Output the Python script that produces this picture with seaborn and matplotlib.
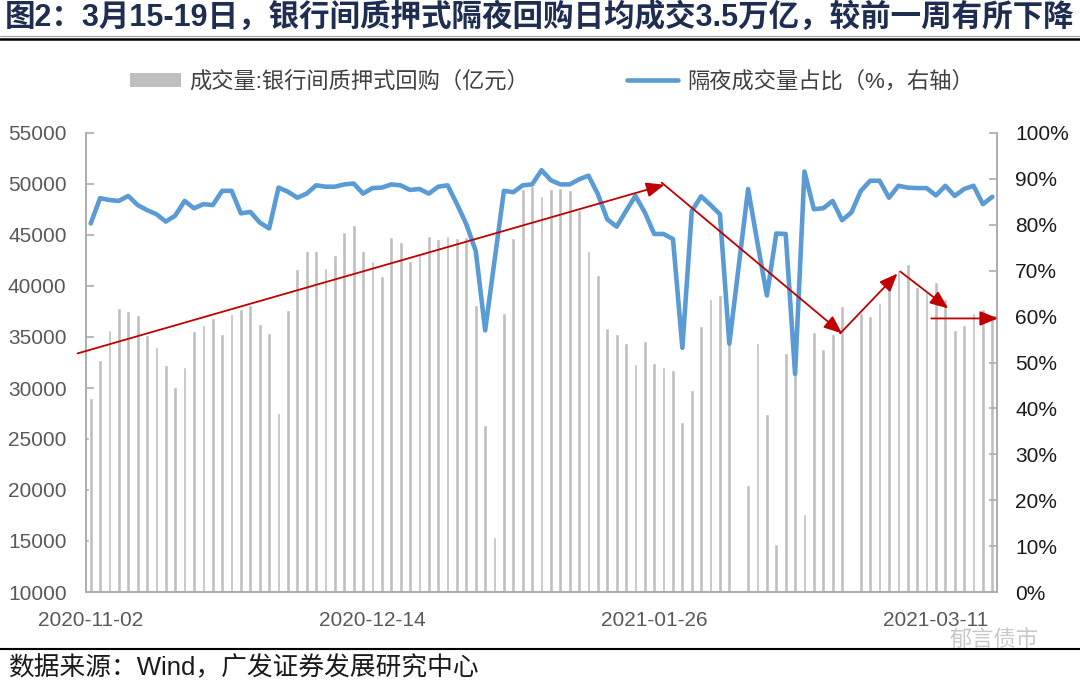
import numpy as np
import pandas as pd
import matplotlib
matplotlib.use('Agg')
import matplotlib.pyplot as plt
import seaborn as sns
from matplotlib.lines import Line2D
from matplotlib.patches import Patch

# daily volume, interbank pledged repo (100m yuan); nan = no visible bar
volume = [29050, 32780, 35690, 37840, 37550, 37120, 35160, 34020, 32220, 30070,
          32030, 35620, 36210, 36900, 35330, 37290, 37750, 38170, 36280, 35390,
          27520, 37650, 41700, 43400, 43450, 41800, 43040, 45290, 45950, 43430,
          42480, 41010, 44800, 44280, 42480, 43100, 44900, 44610, 44930, 44670,
          44800, 38140, 26370, 15420, 37350, 44670, 49510, 49840, 48820, 49510,
          49580, 49380, 47450, 43400, 41110, 35920, 35290, 34380, 32390, 34640,
          32480, 32060, 31800, 26700, 29770, 36050, 38760, 39090, 36000, np.nan,
          20460, 34450, 27420, 14710, 33400, 32000, 17650, 35490, 33820, 35300,
          38070, np.nan, 37390, 37090, 38300, 40000, 41600, 42120, 39900, 39400,
          40350, 38750, 35640, 36220, 37340, 37700, 36800]

# overnight share of volume (%)
share = [80.3, 85.8, 85.4, 85.2, 86.3, 84.3, 83.2, 82.3, 80.7, 82.0,
         85.2, 83.6, 84.5, 84.3, 87.4, 87.4, 82.5, 82.8, 80.5, 79.2,
         88.1, 87.2, 85.9, 86.8, 88.6, 88.3, 88.3, 88.8, 89.0, 86.8,
         88.0, 88.1, 88.8, 88.6, 87.6, 87.8, 86.8, 88.3, 88.6, 84.5,
         80.1, 74.3, 57.0, 72.2, 87.4, 87.1, 88.6, 88.8, 91.9, 89.7,
         88.8, 88.8, 89.9, 90.7, 86.7, 81.2, 79.6, 83.0, 86.3, 82.7,
         78.0, 78.0, 76.9, 53.2, 83.0, 86.2, 84.3, 82.3, 54.1, 71.0,
         87.8, 76.0, 64.6, 78.1, 78.0, 47.5, 91.6, 83.4, 83.6, 85.2,
         81.0, 82.7, 87.4, 89.6, 89.6, 85.9, 88.5, 88.1, 88.0, 88.0,
         86.4, 88.5, 86.3, 87.8, 88.5, 84.5, 86.1]

# trading calendar: weekdays minus holidays, plus weekend make-up days
holidays = ['2021-01-01', '2021-02-12', '2021-02-15', '2021-02-16', '2021-02-17']
makeup_days = ['2021-02-07', '2021-02-20']
dates = pd.bdate_range('2020-11-02', '2021-03-19')
dates = dates.drop(pd.to_datetime(holidays)).append(pd.to_datetime(makeup_days)).sort_values()

df = pd.DataFrame({'idx': np.arange(len(volume)), 'date': dates[:len(volume)],
                   'volume': volume, 'share': share})

bar_color = '#BFBFBF'
line_color = '#5B9BD5'
arrow_color = '#C00000'
spine_color = '#ADADAD'

sns.set_style('white')
plt.rcParams['font.family'] = ['Liberation Sans', 'Noto Sans CJK SC', 'DejaVu Sans']

fig = plt.figure(figsize=(10.8, 6.88), dpi=100)
ax = fig.add_axes([86 / 1080, 1 - 592 / 688, (997 - 86) / 1080, (592 - 133) / 688])

sns.barplot(data=df.dropna(subset=['volume']), x='idx', y='volume', native_scale=True,
            color=bar_color, saturation=1, width=0.4, errorbar=None, ax=ax)

ax2 = ax.twinx()
sns.lineplot(data=df, x='idx', y='share', ax=ax2, color=line_color, linewidth=3.3)

ax.set_xlim(-0.5, len(volume) - 0.5)
ax.set_ylim(10000, 55000)
ax.set_yticks(range(10000, 55001, 5000))
ax2.set_ylim(0, 100)
ax2.set_yticks(range(0, 101, 10))
ax2.set_yticklabels([f'{v}%' for v in range(0, 101, 10)])

tick_pos = [0, 30, 60, 90]
ax.set_xticks(tick_pos)
ax.set_xticklabels([df['date'][i].strftime('%Y-%m-%d') for i in tick_pos])

for a in (ax, ax2):
    a.set_xlabel('')
    a.set_ylabel('')
    for s in a.spines.values():
        s.set_visible(False)
ax.spines['left'].set_visible(True)
ax.spines['bottom'].set_visible(True)
ax2.spines['right'].set_visible(True)
for s in (ax.spines['left'], ax.spines['bottom'], ax2.spines['right']):
    s.set_color(spine_color)
    s.set_linewidth(1.4)

ax.tick_params(axis='y', direction='in', length=6, width=1.2, color=spine_color,
               labelsize=15, labelcolor='#595959', pad=14, left=True)
ax.tick_params(axis='x', length=0, labelsize=15, labelcolor='#595959', pad=14)
ax2.tick_params(axis='y', direction='in', length=6, width=1.2, color=spine_color,
                labelsize=15, labelcolor='#1A1A1A', pad=13, right=True)

# trend arrows (in left-axis data coordinates)
arrows = [((-1.4, 33390), (61.1, 49930)),
          ((60.8, 50130), (80.0, 35350)),
          ((79.8, 35350), (85.9, 41220)),
          ((86.2, 41420), (91.3, 37800)),
          ((89.5, 36820), (96.6, 36820))]
for start, end in arrows:
    ax2.annotate('', xy=end, xytext=start, xycoords=ax.transData, textcoords=ax.transData,
                 annotation_clip=False,
                 arrowprops=dict(arrowstyle='-|>,head_length=1.1,head_width=0.45',
                                 mutation_scale=10, color=arrow_color, lw=1.3,
                                 shrinkA=0, shrinkB=0))

handles = [Patch(facecolor=bar_color, edgecolor='none'),
           Line2D([], [], color=line_color, linewidth=3.3)]
labels = ['成交量:银行间质押式回购（亿元）', '隔夜成交量占比（%，右轴）']
leg = fig.legend(handles, labels, loc='center', bbox_to_anchor=(0.511, 1 - 82 / 688),
                 ncol=2, frameon=False, fontsize=16, handlelength=2.3, handleheight=0.55,
                 handletextpad=0.4, columnspacing=4.4)
for t in leg.get_texts():
    t.set_color('#404040')

fig.text(5 / 1080, 1 - 18 / 688,
         '图2：3月15-19日，银行间质押式隔夜回购日均成交3.5万亿，较前一周有所下降',
         fontsize=22, fontweight='bold', color='#1F2D50', va='center', ha='left')
fig.add_artist(Line2D([0, 1], [1 - 36 / 688] * 2, transform=fig.transFigure,
                      color='#A0A0A0', lw=0.8))
fig.add_artist(Line2D([0, 1], [1 - 38.5 / 688] * 2, transform=fig.transFigure,
                      color='black', lw=1.8))
fig.add_artist(Line2D([0, 1], [1 - 649 / 688] * 2, transform=fig.transFigure,
                      color='black', lw=1.5))
fig.text(950 / 1080, 1 - 640 / 688, '郁言债市', fontsize=16, color='#C8C8C8',
         va='center', ha='left')
fig.text(8 / 1080, 1 - 668 / 688, '数据来源：Wind，广发证券发展研究中心',
         fontsize=18.5, color='#1A1A1A', va='center', ha='left')

plt.savefig('out.png', dpi=100)
